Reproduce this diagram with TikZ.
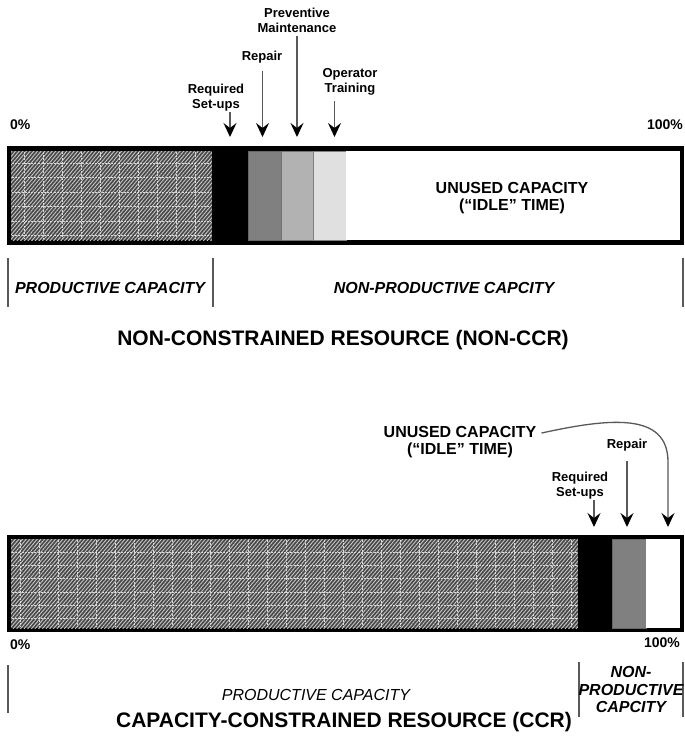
\documentclass[tikz,border=0pt]{standalone}
\usepackage{fontspec}
\setmainfont{Liberation Sans}
\usetikzlibrary{arrows.meta,patterns.meta}
\begin{document}
\begin{tikzpicture}[x=1pt,y=-1pt,
  barframe/.style={fill=black, inner sep=0pt, outer sep=0pt, anchor=north west},
  seg/.style={inner sep=0pt, outer sep=0pt, anchor=north west, minimum height=89pt},
  hatched/.style={seg, fill=black!72,
    postaction={pattern={Lines[angle=50,distance=2.8pt,line width=0.9pt]}, pattern color=black!22}},
  gridline/.style={white!85!black, line width=0.8pt, dash pattern=on 2pt off 1.2pt},
  lbl/.style={font=\fontsize{13}{15}\selectfont\bfseries, align=center, inner sep=0pt},
  big/.style={font=\fontsize{16}{17}\selectfont\bfseries, align=center, inner sep=0pt},
  captext/.style={font=\fontsize{16}{17.5}\selectfont\bfseries\itshape, align=center, inner sep=0pt},
  pct/.style={font=\fontsize{14}{16}\selectfont\bfseries, inner sep=0pt},
  titletext/.style={font=\fontsize{21}{24}\selectfont\bfseries, inner sep=0pt},
  arr/.style={draw=black!65, line width=1.3pt,
    -{Stealth[length=14pt,width=13pt,inset=5pt,fill=black,color=black]}},
  tickline/.style={draw=black!65, line width=1.1pt}
]
\useasboundingbox (0,0) rectangle (685,736);

% ---------- non-constrained resource ----------
\node[barframe, minimum width=677pt, minimum height=99pt] (bar1) at (7,146) {};
\node[hatched, minimum width=201pt] (prod1) at (11,151) {};
\node[seg, fill=black, minimum width=36pt] (setup1) at (212,151) {};
\node[seg, fill=black!50, draw=black!60, line width=0.7pt, minimum width=33pt] (repair1) at (248,151) {};
\node[seg, fill=black!30, draw=black!55, line width=0.7pt, minimum width=32pt] (pm1) at (281,151) {};
\node[seg, fill=black!12, draw=black!50, line width=0.7pt, minimum width=33pt] (ot1) at (313,151) {};
\node[seg, fill=white, minimum width=334pt] (idle1) at (346,151) {};

\foreach \x in {24,43,...,205} \draw[gridline] (\x,152) -- (\x,239);
\foreach \y in {163,177.5,...,236} \draw[gridline] (12,\y) -- (211,\y);

\node[pct, anchor=west] (p0a) at (10,125) {0\%};
\node[pct, anchor=east] (p100a) at (683,125) {100\%};

\node[lbl] (setupl1) at (216,97.5) {Required\\Set-ups};
\node[lbl] (repairl1) at (262,57) {Repair};
\node[lbl] (pml1) at (297,20.5) {Preventive\\Maintenance};
\node[lbl] (otl1) at (350,81.5) {Operator\\Training};

\coordinate (t-setup1) at ([yshift=14pt]setup1.north);
\coordinate (t-repair1) at ([xshift=-2pt,yshift=14pt]repair1.north);
\coordinate (t-pm1) at ([yshift=14pt]pm1.north);
\coordinate (t-ot1) at ([xshift=5pt,yshift=14pt]ot1.north);
\draw[arr, shorten <=1pt] (setupl1.south -| t-setup1) -- (t-setup1);
\draw[arr, shorten <=8pt] (repairl1.south -| t-repair1) -- (t-repair1);
\draw[arr, shorten <=3pt] (pml1.south -| t-pm1) -- (t-pm1);
\draw[arr, shorten <=6pt] (otl1.south -| t-ot1) -- (t-ot1);

\node[big] (idlel1) at (512,198) {UNUSED CAPACITY\\(“IDLE” TIME)};

\draw[tickline] (8,258) -- (8,307);
\draw[tickline] (213,258) -- (213,307);
\draw[tickline] (683,258) -- (683,307);
\node[captext] (prodc1) at (110,288) {PRODUCTIVE CAPACITY};
\node[captext] (nonprod1) at (444,288) {NON-PRODUCTIVE CAPCITY};
\node[titletext] (title1) at (343,340) {NON-CONSTRAINED RESOURCE (NON-CCR)};

% ---------- capacity-constrained resource ----------
\node[barframe, minimum width=677pt, minimum height=97pt] (bar2) at (7,535) {};
\node[hatched, minimum width=567pt] (prod2) at (11,539) {};
\node[seg, fill=black, minimum width=34pt] (setup2) at (578,539) {};
\node[seg, fill=black!50, draw=black!60, line width=0.7pt, minimum width=34pt] (repair2) at (612,539) {};
\node[seg, fill=white, minimum width=34pt] (idle2) at (646,539) {};

\foreach \x in {20,39,...,572} \draw[gridline] (\x,540) -- (\x,627);
\foreach \y in {552,565.3,...,624} \draw[gridline] (12,\y) -- (577,\y);

\node[big] (idlel2) at (460,442) {UNUSED CAPACITY\\(“IDLE” TIME)};
\node[lbl] (repairl2) at (627,445) {Repair};
\node[lbl] (setupl2) at (580,485.5) {Required\\Set-ups};

\coordinate (t-setup2) at ([xshift=-1pt,yshift=12pt]setup2.north);
\coordinate (t-repair2) at ([xshift=-2pt,yshift=12pt]repair2.north);
\coordinate (t-idle2) at ([xshift=5pt,yshift=12pt]idle2.north);
\draw[arr, shorten <=1pt] (setupl2.south -| t-setup2) -- (t-setup2);
\draw[arr, shorten <=10pt] (repairl2.south -| t-repair2) -- (t-repair2);
\draw[arr] ([xshift=5pt,yshift=-7pt]idlel2.north east)
  .. controls (610,418) and (668,412) .. (668,462) -- (t-idle2);

\node[pct, anchor=west] (p0b) at (10,645) {0\%};
\node[pct, anchor=east] (p100b) at (680,643) {100\%};

\draw[tickline] (8,665) -- (8,713);
\draw[tickline] (579,662) -- (579,717);
\draw[tickline] (683,662) -- (683,717);
\node[captext, font=\fontsize{16}{17.5}\selectfont\itshape] (prodc2) at (316,695) {PRODUCTIVE CAPACITY};
\node[captext] (nonprod2) at (631,689.5) {NON-\\PRODUCTIVE\\CAPCITY};
\node[titletext] (title2) at (344,722) {CAPACITY-CONSTRAINED RESOURCE (CCR)};
\end{tikzpicture}
\end{document}
